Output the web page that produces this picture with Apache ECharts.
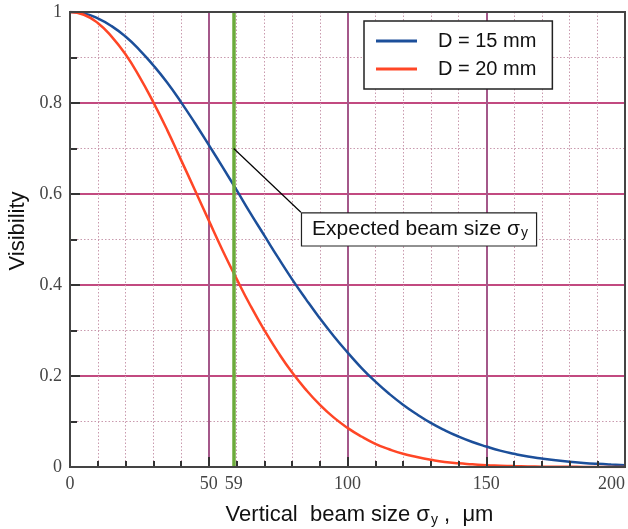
<!DOCTYPE html>
<html>
<head>
<meta charset="utf-8">
<script src="https://cdn.jsdelivr.net/npm/echarts@6/dist/echarts.min.js"></script>
<style>
html,body{margin:0;padding:0;background:#fff;}
#chart{width:628px;height:529px;}
</style>
</head>
<body>
<div id="chart"></div>
<script>
// ---- data ----
const beamSize = [0,5,10,15,20,25,30,35,40,45,50,55,60,65,70,75,80,85,90,95,100,
  105,110,115,120,125,130,135,140,145,150,155,160,165,170,175,180,185,190,195,200];
const visD15 = [1,0.997,0.986,0.969,0.946,0.917,0.883,0.845,0.802,0.756,0.708,0.659,0.609,0.558,0.509,0.460,0.413,0.369,0.327,0.288,0.252,
  0.218,0.188,0.161,0.137,0.116,0.097,0.081,0.067,0.055,0.045,0.036,0.029,0.023,0.0185,0.0146,0.0114,0.0089,0.0069,0.0053,0.004];
const visD20 = [1,0.994,0.976,0.946,0.907,0.858,0.802,0.741,0.675,0.609,0.542,0.476,0.414,0.355,0.301,0.252,0.208,0.170,0.137,0.109,0.086,
  0.067,0.051,0.039,0.029,0.022,0.016,0.011,0.008,0.006,0.004,0.003,0.002,0.0013,0.0008,0.0005,0.0004,0.0002,0.0001,0.0001,0.0001];
const seriesNames = ['D = 15 mm', 'D = 20 mm'];
const xTickLabels = [0, 50, 59, 100, 150, 200];
const xMajorTicks = [0, 50, 100, 150, 200];
const expectedBeamSize = 59;
const annotationAnchor = [59, 0.7];
const annotationBox = [83.2, 0.56];

const chart = echarts.init(document.getElementById('chart'), null, {renderer: 'canvas'});
const sansFont = '"Liberation Sans", Arial, sans-serif';
const serifFont = '"Liberation Serif", "Times New Roman", serif';
const minorGrid = {show: true, lineStyle: {color: '#c99aae', width: 1, type: [1.5, 2]}};
const tickStyle = {color: '#333', width: 2};

const xBase = {type: 'value', min: 0, max: 200, interval: 50};
const yBase = {type: 'value', min: 0, max: 1, interval: 0.2};

const option = {
  animation: false,
  backgroundColor: '#ffffff',
  grid: {left: 70, right: 3, top: 12, bottom: 62, outerBoundsMode: 'none', containLabel: false,
         show: true, borderColor: '#444', borderWidth: 2, backgroundColor: 'transparent', z: 10},
  legend: {
    orient: 'vertical', left: 364, top: 21, z: 20,
    data: seriesNames,
    icon: 'rect', itemWidth: 41, itemHeight: 3, itemGap: 8,
    padding: [10, 16, 10, 12],
    borderColor: '#222', borderWidth: 1.5, backgroundColor: '#fff',
    textStyle: {fontFamily: sansFont, fontSize: 20, color: '#111', lineHeight: 19, padding: [0, 0, 0, 16]}
  },
  xAxis: [
    Object.assign({}, xBase, {
      z: 0,
      axisLine: {show: false}, axisTick: {show: false}, axisLabel: {show: false},
      splitLine: {show: true, lineStyle: {color: '#a4588a', width: 2}},
      minorTick: {show: false, splitNumber: 5},
      minorSplitLine: minorGrid
    }),
    Object.assign({}, xBase, {
      z: 5, position: 'bottom',
      name: '{a|Vertical  beam size σ}{s|y}{a| ,  μm}',
      nameLocation: 'middle', nameGap: 36,
      nameTextStyle: {padding: [0, 0, 0, 24], rich: {
        a: {fontFamily: sansFont, fontSize: 22, color: '#111', lineHeight: 24},
        s: {fontFamily: sansFont, fontSize: 14, color: '#111', verticalAlign: 'bottom', lineHeight: 16, padding: [8, 0, 0, 1]}
      }},
      axisLine: {show: true, lineStyle: {color: '#333', width: 2}},
      axisTick: {show: true, inside: true, length: 10, lineStyle: tickStyle, customValues: xMajorTicks},
      minorTick: {show: true, splitNumber: 5, length: 6, lineStyle: tickStyle},
      axisLabel: {fontFamily: serifFont, fontSize: 18, color: '#444', margin: 8, customValues: xTickLabels, alignMaxLabel: 'right'},
      splitLine: {show: false}, minorSplitLine: {show: false}
    })
  ],
  yAxis: [
    Object.assign({}, yBase, {
      z: 0,
      axisLine: {show: false}, axisTick: {show: false}, axisLabel: {show: false},
      splitLine: {show: true, lineStyle: {color: '#c24a80', width: 2}},
      minorTick: {show: false, splitNumber: 2},
      minorSplitLine: minorGrid
    }),
    Object.assign({}, yBase, {
      z: 5, position: 'left',
      name: 'Visibility', nameLocation: 'middle', nameGap: 41,
      nameTextStyle: {fontFamily: sansFont, fontSize: 22, color: '#111', padding: [0, 0, 0, 17]},
      axisLine: {show: true, lineStyle: {color: '#333', width: 2}},
      axisTick: {show: true, inside: true, length: 10, lineStyle: tickStyle},
      minorTick: {show: true, splitNumber: 2, length: 7, lineStyle: tickStyle},
      axisLabel: {fontFamily: serifFont, fontSize: 18, color: '#444', margin: 8},
      splitLine: {show: false}, minorSplitLine: {show: false}
    })
  ],
  series: [
    {
      name: 'expected', type: 'line', data: [], silent: true,
      markLine: {
        silent: true, symbol: ['none', 'none'], animation: false,
        label: {show: false},
        data: [
          {xAxis: expectedBeamSize, lineStyle: {color: '#6cab3c', width: 3.5, type: 'solid'}},
          [{coord: annotationAnchor, lineStyle: {color: '#000', width: 1.2, type: 'solid'}}, {coord: annotationBox}]
        ]
      }
    },
    {
      name: seriesNames[0], type: 'line', smooth: true, showSymbol: false,
      lineStyle: {color: '#1c4f9a', width: 2.5}, itemStyle: {color: '#1c4f9a'},
      data: beamSize.map((x, i) => [x, visD15[i]]), z: 3
    },
    {
      name: seriesNames[1], type: 'line', smooth: true, showSymbol: false,
      lineStyle: {color: '#ff4626', width: 2.5}, itemStyle: {color: '#ff4626'},
      data: beamSize.map((x, i) => [x, visD20[i]]), z: 3
    }
  ]
};
chart.setOption(option);

const p = chart.convertToPixel({gridIndex: 0}, annotationBox);
chart.setOption({
  graphic: [{
    type: 'text', left: p[0], top: p[1], z: 100,
    style: {
      text: '{a|Expected beam size σ}{s|y}',
      rich: {
        a: {fontFamily: sansFont, fontSize: 21, fill: '#111', lineHeight: 22},
        s: {fontFamily: sansFont, fontSize: 14, fill: '#111', verticalAlign: 'bottom', lineHeight: 14, padding: [8, 0, 0, 1]}
      },
      backgroundColor: '#fff', borderColor: '#222', borderWidth: 1.2,
      padding: [5, 8, 5, 10]
    }
  }]
});
</script>
</body>
</html>
